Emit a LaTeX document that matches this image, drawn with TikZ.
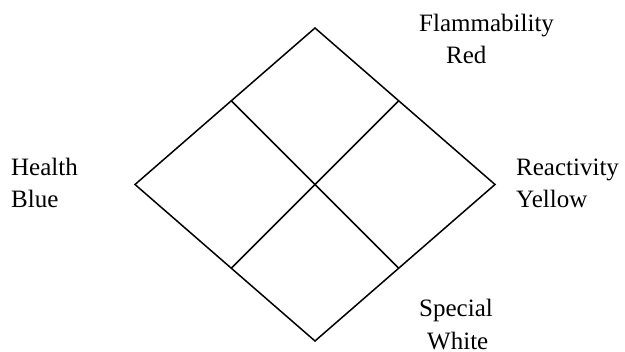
\documentclass[tikz,border=0pt]{standalone}
\usepackage{fontspec}
\setmainfont{Liberation Serif}
\usetikzlibrary{calc}
\begin{document}
\begin{tikzpicture}[x=1pt,y=-1pt,
  edge/.style={line width=1.5pt,line join=miter},
  lbl/.style={anchor=base west,inner sep=0pt,font=\fontsize{25}{30}\selectfont}]
\useasboundingbox (0,0) rectangle (625,352);
\coordinate (T) at (315,28);
\coordinate (R) at (495,184.5);
\coordinate (B) at (315,341);
\coordinate (L) at (135,184.5);
\draw[edge] (T) -- (R) -- (B) -- (L) -- cycle;
\coordinate (tl) at ($(T)!0.465!(L)$);
\coordinate (br) at ($(B)!0.465!(R)$);
\coordinate (tr) at ($(T)!0.465!(R)$);
\coordinate (bl) at ($(B)!0.465!(L)$);
\draw[edge] (tl) -- (br);
\draw[edge] (tr) -- (bl);
\node[lbl] (flam) at (419,32) {Flammability};
\node[lbl] (red) at (446,64) {Red};
\node[lbl] (health) at (11,176) {Health};
\node[lbl] (blue) at (11,208) {Blue};
\node[lbl] (react) at (516,176) {Reactivity};
\node[lbl] (yellow) at (516,208) {Yellow};
\node[lbl] (spec) at (419,317) {Special};
\node[lbl] (white) at (427,349.5) {White};
\end{tikzpicture}
\end{document}
